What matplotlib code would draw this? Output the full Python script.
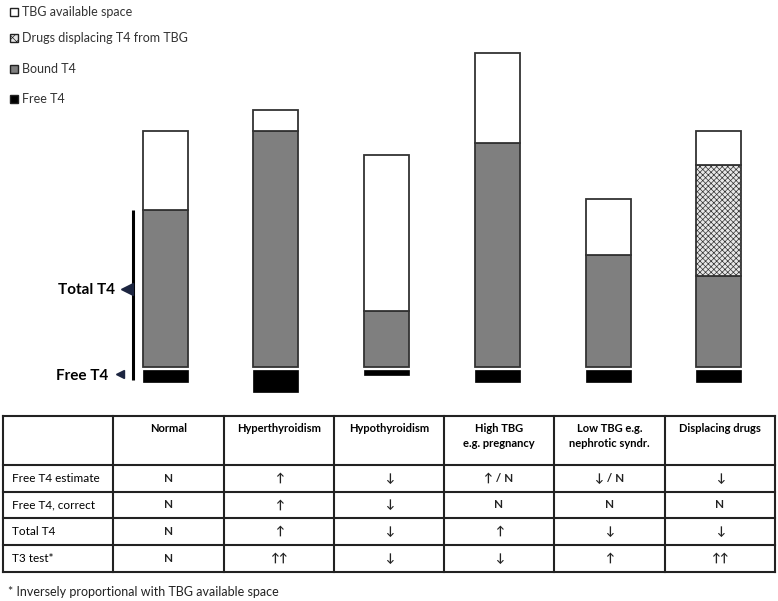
import matplotlib.pyplot as plt
from matplotlib.patches import Rectangle

plt.rcParams['font.family'] = ['Lato', 'DejaVu Sans']
plt.rcParams['hatch.color'] = '#a8a8a8'
plt.rcParams['hatch.linewidth'] = 0.5

# bar data (arbitrary units, stacked from baseline)
conditions = ['Normal', 'Hyperthyroidism', 'Hypothyroidism', 'High TBG', 'Low TBG', 'Displacing drugs']
free_t4 = [12, 22, 5, 12, 12, 12]
bound_t4 = [157, 236, 56, 224, 112, 91]
drugs = [0, 0, 0, 0, 0, 111]
available = [79, 21, 156, 90, 56, 34]

legend_labels = ['TBG available space', 'Drugs displacing T4 from TBG', 'Bound T4', 'Free T4']

# table data
col_headers = ['', 'Normal', 'Hyperthyroidism', 'Hypothyroidism',
               'High TBG\ne.g. pregnancy', 'Low TBG e.g.\nnephrotic syndr.', 'Displacing drugs']
row_labels = ['Free T4 estimate', 'Free T4, correct', 'Total T4', 'T3 test*']
cells = [
    ['N', '↑', '↓', '↑ / N', '↓ / N', '↓'],
    ['N', '↑', '↓', 'N', 'N', 'N'],
    ['N', '↑', '↓', '↑', '↓', '↓'],
    ['N', '↑↑', '↓', '↓', '↑', '↑↑'],
]
footnote = '* Inversely proportional with TBG available space'

W, H = 778, 601
fig = plt.figure(figsize=(W / 100, H / 100), dpi=100)

# overlay axes in pixel coordinates
ax = fig.add_axes([0, 0, 1, 1])
ax.set_xlim(0, W)
ax.set_ylim(H, 0)
ax.axis('off')

# bar axes: x = category index, y = units, baseline at 367 px from top
axb = fig.add_axes([0, 0, 1, 1])
axb.patch.set_visible(False)
axb.axis('off')
spacing = 110.8
axb.set_xlim(-165 / spacing, (W - 165) / spacing)
axb.set_ylim(-(H - 367), 367)

x = list(range(len(conditions)))
bw = 45 / spacing
edge = '#333333'
b2 = [b + d for b, d in zip(bound_t4, drugs)]
axb.bar(x, bound_t4, width=bw, color='#7f7f7f', edgecolor=edge, linewidth=1.3)
axb.bar(x, drugs, width=bw, bottom=bound_t4, color='#e8e8e8', edgecolor=edge,
        linewidth=1.3, hatch='xxxxxx')
axb.bar(x, available, width=bw, bottom=b2, color='white', edgecolor=edge, linewidth=1.3)
axb.bar(x, [-f for f in free_t4], width=bw, bottom=-3, color='black', edgecolor='black', linewidth=0.5)

# legend
leg_colors = ['white', '#e8e8e8', '#7f7f7f', 'black']
leg_hatch = [None, 'xxxx', None, None]
leg_y = [12, 38, 69, 99]
for lab, c, h, y in zip(legend_labels, leg_colors, leg_hatch, leg_y):
    ax.add_patch(Rectangle((10, y - 4), 8, 8, facecolor=c, edgecolor='#222222',
                           linewidth=1, hatch=h))
    ax.text(22, y, lab, fontsize=9, va='center', ha='left', color='#333333')

# total / free T4 bracket
ax.plot([133, 133], [210, 380], color='black', lw=2.2, solid_capstyle='butt')
ax.plot([127], [289], marker='<', markersize=8, color='#1c2540')
ax.plot([120], [374], marker='<', markersize=6, color='#1c2540')
ax.text(115, 290, 'Total T4', fontsize=11, fontweight='bold', ha='right', va='center')
ax.text(108, 376, 'Free T4', fontsize=11, fontweight='bold', ha='right', va='center')

# table
col_x = [3, 113, 224, 334, 444, 554, 665, 775]
row_y = [416, 465, 492, 518, 545, 572]
for cx in col_x:
    ax.plot([cx, cx], [row_y[0], row_y[-1]], color='#222222', lw=1.5)
for ry in row_y:
    ax.plot([col_x[0], col_x[-1]], [ry, ry], color='#222222', lw=1.5)

for j, head in enumerate(col_headers):
    cx = (col_x[j] + col_x[j + 1]) / 2
    ax.text(cx, row_y[0] + 7, head, fontsize=8, fontweight='bold', ha='center', va='top',
            linespacing=1.4)

for i, lab in enumerate(row_labels):
    cy = (row_y[i + 1] + row_y[i + 2]) / 2
    ax.text(col_x[0] + 9, cy, lab, fontsize=8.5, ha='left', va='center')
    for j, val in enumerate(cells[i]):
        cx = (col_x[j + 1] + col_x[j + 2]) / 2
        ax.text(cx, cy, val, fontsize=8.5, fontweight='bold', ha='center', va='center',
                color='#222222')

ax.text(8, 592, footnote, fontsize=9, ha='left', va='center', color='#222222')

fig.savefig('out.png', dpi=100)
